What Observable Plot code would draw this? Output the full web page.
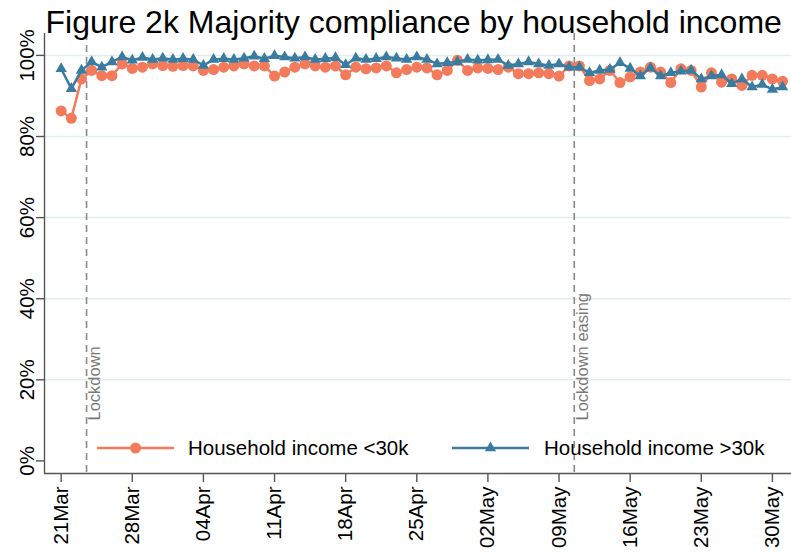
<!DOCTYPE html>
<html><head><meta charset="utf-8">
<script src="https://cdn.jsdelivr.net/npm/d3@7"></script>
<script src="https://cdn.jsdelivr.net/npm/@observablehq/plot@0.6"></script>
<style>
body{margin:0;background:#fff;font-family:"Liberation Sans",Arial,sans-serif;}
#wrap{position:relative;width:791px;height:554px;overflow:hidden;background:#fff;}
#title{position:absolute;left:45.5px;top:5.5px;font-size:32px;line-height:1;white-space:nowrap;color:#000;}
#chart{position:absolute;left:0;top:0;}
#legend{position:absolute;left:0;top:430px;}
</style></head>
<body>
<div id="wrap">
  <div id="chart"></div>
  <div id="title">Figure 2k Majority compliance by household income</div>
  <svg id="legend" width="791" height="36"></svg>
</div>
<script>
// ---- data ----
const startDate = "2020-03-21";
const incomeBelow30k = [86.3, 84.5, 94.2, 96.3, 95.0, 95.0, 97.9, 96.8, 97.1, 97.9,
  97.5, 97.3, 97.5, 97.4, 96.3, 96.5, 97.1, 97.4, 97.9, 97.4,
  97.4, 94.9, 95.9, 97.1, 97.9, 97.4, 97.1, 97.4, 95.2, 97.1,
  96.7, 96.9, 97.4, 95.7, 96.5, 97.1, 96.9, 95.2, 96.3, 98.8,
  96.3, 96.9, 96.8, 96.5, 97.1, 95.5, 95.5, 95.7, 95.5, 94.9,
  97.4, 97.4, 93.8, 94.2, 96.3, 93.3, 94.7, 95.9, 97.1, 95.9,
  93.3, 96.7, 96.3, 92.2, 95.7, 93.4, 94.2, 92.6, 95.1, 95.1,
  94.2, 93.6];
const incomeAbove30k = [96.7, 91.8, 96.3, 98.4, 97.1, 98.4, 99.6, 98.8, 99.5, 99.0,
  99.3, 99.0, 99.2, 99.0, 97.5, 99.0, 99.2, 99.0, 99.3, 99.8,
  99.2, 99.9, 99.6, 99.3, 99.6, 99.0, 99.2, 99.4, 97.7, 99.3,
  99.0, 99.2, 99.6, 99.3, 99.0, 99.6, 99.0, 97.9, 98.2, 98.4,
  99.0, 98.8, 98.9, 99.0, 97.5, 97.9, 98.4, 97.9, 97.5, 97.9,
  97.1, 97.1, 95.7, 96.3, 96.5, 98.2, 96.8, 94.9, 96.9, 94.9,
  95.7, 96.1, 96.3, 94.2, 94.9, 95.2, 93.0, 94.2, 92.2, 92.8,
  91.6, 92.2];
const seriesNames = ["Household income <30k", "Household income >30k"];
const xTickDates = ["2020-03-21","2020-03-28","2020-04-04","2020-04-11","2020-04-18","2020-04-25",
  "2020-05-02","2020-05-09","2020-05-16","2020-05-23","2020-05-30"];
const yTicks = [0, 20, 40, 60, 80, 100];
const eventDates = ["2020-03-23T12:00Z", "2020-05-10T12:00Z"];
const eventLabels = ["Lockdown", "Lockdown easing"];

// ---- build ----
const orange = "#f47a5c", blue = "#3a7ca0";
const start = new Date(startDate + "T00:00Z");
const dates = d3.utcDay.range(start, d3.utcDay.offset(start, incomeBelow30k.length));
const rows = dates.map((d, i) => ({date: d, below: incomeBelow30k[i], above: incomeAbove30k[i]}));
const xTicks = xTickDates.map(s => new Date(s + "T00:00Z"));
const events = eventDates.map((s, i) => ({date: new Date(s), label: eventLabels[i]}));
const fmt = d3.utcFormat("%d%b");
const dayMs = 864e5;
const xDomain = [new Date(+start - 1.64 * dayMs), new Date(+start + 71.88 * dayMs)];
const yDomain = [-3.1, 105.4];
const axisColor = "#555";

const chart = Plot.plot({
  width: 791, height: 554,
  marginLeft: 44, marginRight: 0, marginTop: 33, marginBottom: 81,
  style: {fontFamily: "'Liberation Sans', Arial, sans-serif", fontSize: "20.5px", color: "#000", background: "transparent"},
  x: {type: "utc", domain: xDomain},
  y: {domain: yDomain},
  marks: [
    Plot.gridY(yTicks.filter(t => t > 0), {stroke: "#e4eded", strokeOpacity: 1, strokeWidth: 1.5}),
    Plot.ruleX(events, {x: "date", stroke: "#8a8a8a", strokeDasharray: "7,5", strokeWidth: 1.6}),
    Plot.text(events, {x: "date", text: "label", frameAnchor: "bottom", dy: -53, dx: 2, rotate: -90,
      textAnchor: "start", lineAnchor: "top", fill: "#7a7a7a", fontSize: 16.5}),
    Plot.line(rows, {x: "date", y: "below", stroke: orange, strokeWidth: 2.5}),
    Plot.dot(rows, {x: "date", y: "below", fill: orange, r: 5.5}),
    Plot.line(rows, {x: "date", y: "above", stroke: blue, strokeWidth: 2.5}),
    Plot.dot(rows, {x: "date", y: "above", fill: blue, r: 4.2, symbol: "triangle"}),
    // axis lines
    Plot.ruleX([xDomain[0]], {stroke: axisColor, strokeWidth: 1.4}),
    Plot.ruleY([yDomain[0]], {stroke: axisColor, strokeWidth: 1.4}),
    // y axis ticks + labels
    Plot.axisY(yTicks, {tickSize: 8, tickFormat: null, text: null, stroke: axisColor, strokeWidth: 1.4, label: null}),
    Plot.text(yTicks, {y: d => d, text: d => d + "%", frameAnchor: "left", dx: -11, rotate: -90,
      textAnchor: "middle", lineAnchor: "bottom", fill: "#000", fontSize: 20.5}),
    // x axis ticks + labels
    Plot.axisX(xTicks, {tickFormat: fmt, tickSize: 9, tickPadding: 4, tickRotate: -90,
      stroke: axisColor, strokeWidth: 1.4, fill: "#000", label: null})
  ]
});
document.getElementById("chart").appendChild(chart);

// ---- legend ----
const lg = d3.select("#legend");
const items = [
  {name: seriesNames[0], color: orange, x0: 97, x1: 174, tx: 188, sym: "circle"},
  {name: seriesNames[1], color: blue, x0: 452, x1: 529, tx: 544, sym: "triangle"}
];
const ly = 18;
items.forEach(it => {
  lg.append("line").attr("x1", it.x0).attr("x2", it.x1).attr("y1", ly).attr("y2", ly)
    .attr("stroke", it.color).attr("stroke-width", 2.5);
  if (it.sym === "circle") {
    lg.append("circle").attr("cx", (it.x0 + it.x1) / 2).attr("cy", ly).attr("r", 5.5).attr("fill", it.color);
  } else {
    lg.append("path").attr("d", d3.symbol(d3.symbolTriangle, 4.2 * 4.2 * Math.PI)())
      .attr("transform", `translate(${(it.x0 + it.x1) / 2},${ly})`).attr("fill", it.color);
  }
  lg.append("text").attr("x", it.tx).attr("y", ly + 7).attr("font-size", 20.5)
    .attr("font-family", "'Liberation Sans', Arial, sans-serif").attr("fill", "#000").text(it.name);
});
</script>
</body></html>
